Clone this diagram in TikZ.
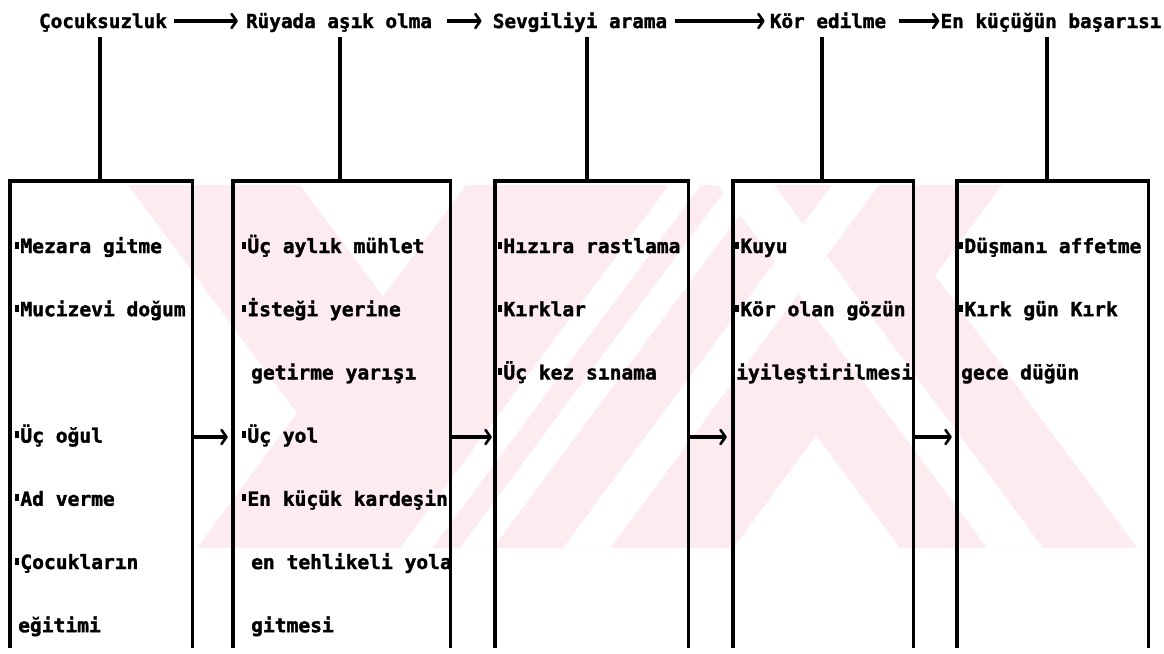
\documentclass[tikz,border=0pt]{standalone}
\usepackage{fontspec}
\newfontfamily\labfont[FakeBold=1.6]{DejaVu Sans Mono Bold}
\usetikzlibrary{arrows.meta}

\definecolor{wmpink}{RGB}{252,235,239}
% narrow square bullet used in front of every list item
\newcommand\blt{\rule[4.5pt]{4.2pt}{7pt}\hspace{1pt}}

\begin{document}
\begin{tikzpicture}[x=1pt,y=-1pt,
  title/.style={font=\labfont\fontsize{19.3}{20}\selectfont,
    inner xsep=0pt, inner ysep=6pt, text height=17pt, text depth=3pt, anchor=base},
  item/.style={font=\labfont\fontsize{19.6}{20}\selectfont,
    inner sep=0pt, anchor=base west},
  frame/.style={inner sep=0pt, minimum height=467pt},
  boxline/.style={line width=3.4pt, line join=miter},
  tick/.style={line width=3.3pt},
  flow/.style={line width=3.2pt,
    -{Straight Barb[length=5pt,width=14pt,line width=2.6pt,round]}},
]
\useasboundingbox (0,0) rectangle (1164,653);
\fill[white] (0,0) rectangle (1164,653);

% faint striped emblem in the background
\begin{scope}
  \clip (0,185) rectangle (1164,548);
  \fill[wmpink] (197,548) -- (460,548) -- (729,185) -- (466,185) -- cycle;
  \fill[wmpink] (128,185) -- (300,185) -- (569,548) -- (397,548) -- cycle;
  \fill[wmpink] (493,548) -- (733,548) -- (1002,185) -- (762,185) -- cycle;
  \fill[wmpink] (631,185) -- (868,185) -- (1137,548) -- (900,548) -- cycle;
  \fill[white] (400,548) -- (432,548) -- (701,185) -- (669,185) -- cycle;
  \fill[white] (460,548) -- (493,548) -- (762,185) -- (729,185) -- cycle;
  \fill[white] (563,548) -- (610,548) -- (879,185) -- (832,185) -- cycle;
  \fill[white] (987,548) -- (1043,548) -- (774,185) -- (718,185) -- cycle;
\end{scope}

% stage titles
\node[title] (t1) at (103,28) {Çocuksuzluk};
\node[title] (t2) at (339,28) {Rüyada aşık olma};
\node[title] (t3) at (580,28) {Sevgiliyi arama};
\node[title] (t4) at (828,28) {Kör edilme};
\node[title] (t5) at (1051,28) {En küçüğün başarısı};

\draw[flow, shorten <=7pt, shorten >=8pt] (t1) -- (t2);
\draw[flow, shorten <=15pt, shorten >=11pt] (t2) -- (t3);
\draw[flow, shorten <=8pt, shorten >=5pt] (t3) -- (t4);
\draw[flow, shorten <=13pt, shorten >=1pt] (t4) -- (t5);

% open-bottomed frames
\node[frame, minimum width=182pt] (b1) at (101,414.5) {};
\node[frame, minimum width=217pt] (b2) at (341.5,414.5) {};
\node[frame, minimum width=193pt] (b3) at (591.5,414.5) {};
\node[frame, minimum width=180pt] (b4) at (823,414.5) {};
\node[frame, minimum width=191pt] (b5) at (1052.5,414.5) {};
\foreach \b in {b1,b2,b3,b4,b5}
  \draw[boxline] (\b.south west) -- (\b.north west) -- (\b.north east) -- (\b.south east);

% title-to-frame stems
\foreach \b/\t/\dx in {b1/t1/-1, b2/t2/-1.5, b3/t3/-4.5, b4/t4/-1, b5/t5/-5.5}
  \draw[tick] ([xshift=\dx pt]\b.north) -- ([xshift=\dx pt]\b.north |- \t.south);

% frame-to-frame arrows
\draw[flow, shorten >=5pt] ([yshift=-22.5pt]b1.east) -- ([yshift=-22.5pt]b2.west);
\draw[flow, shorten >=3pt] ([yshift=-22.5pt]b2.east) -- ([yshift=-22.5pt]b3.west);
\draw[flow, shorten >=6pt] ([yshift=-22.5pt]b3.east) -- ([yshift=-22.5pt]b4.west);
\draw[flow, shorten >=5pt] ([yshift=-22.5pt]b4.east) -- ([yshift=-22.5pt]b5.west);

% items of frame 1
\node[item] (i11) at (15,253)   {\blt Mezara gitme};
\node[item] (i12) at (15,316.2) {\blt Mucizevi doğum};
\node[item] (i14) at (15,442.6) {\blt Üç oğul};
\node[item] (i15) at (15,505.8) {\blt Ad verme};
\node[item] (i16) at (15,569)   {\blt Çocukların};
\node[item] (i17) at (18,632.2) {eğitimi};

% items of frame 2
\node[item] (i21) at (242,253)   {\blt Üç aylık mühlet};
\node[item] (i22) at (242,316.2) {\blt İsteği yerine};
\node[item] (i23) at (251,379.4) {getirme yarışı};
\node[item] (i24) at (242,442.6) {\blt Üç yol};
\node[item] (i25) at (242,505.8) {\blt En küçük kardeşin};
\node[item] (i26) at (251,569)   {en tehlikeli yola};
\node[item] (i27) at (251,632.2) {gitmesi};

% items of frame 3
\node[item] (i31) at (498,253)   {\blt Hızıra rastlama};
\node[item] (i32) at (498,316.2) {\blt Kırklar};
\node[item] (i33) at (498,379.4) {\blt Üç kez sınama};

% items of frame 4
\node[item] (i41) at (735,253)   {\blt Kuyu};
\node[item] (i42) at (735,316.2) {\blt Kör olan gözün};
\node[item] (i43) at (736,379.4) {iyileştirilmesi};

% items of frame 5
\node[item] (i51) at (959,253)   {\blt Düşmanı affetme};
\node[item] (i52) at (959,316.2) {\blt Kırk gün Kırk};
\node[item] (i53) at (961,379.4) {gece düğün};
\end{tikzpicture}
\end{document}
